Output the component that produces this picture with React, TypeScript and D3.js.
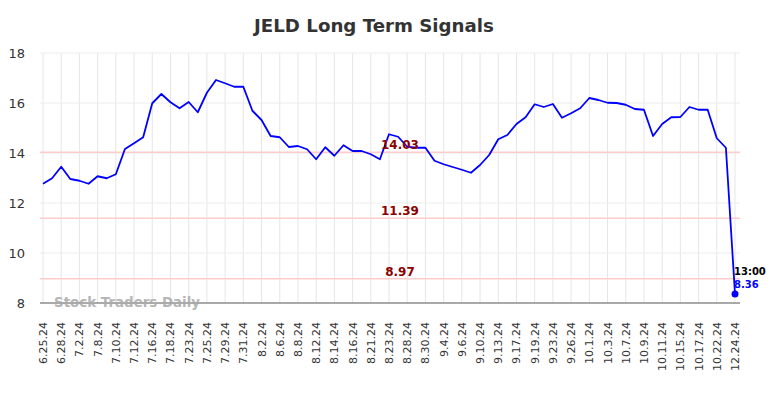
import React from "react";
import * as d3 from "d3";

const tickLabels = ["6.25.24","6.28.24","7.2.24","7.8.24","7.10.24","7.12.24","7.16.24","7.18.24","7.23.24","7.25.24","7.29.24","7.31.24","8.2.24","8.6.24","8.8.24","8.12.24","8.14.24","8.16.24","8.21.24","8.23.24","8.28.24","8.30.24","9.4.24","9.6.24","9.10.24","9.13.24","9.17.24","9.19.24","9.23.24","9.26.24","10.1.24","10.3.24","10.7.24","10.9.24","10.11.24","10.15.24","10.17.24","10.22.24","12.24.24"];

const prices = [12.77,12.99,13.45,12.96,12.89,12.77,13.07,12.99,13.15,14.16,14.39,14.63,15.99,16.36,16.03,15.79,16.04,15.63,16.41,16.92,16.79,16.65,16.65,15.69,15.32,14.68,14.63,14.24,14.28,14.15,13.75,14.23,13.89,14.31,14.08,14.08,13.95,13.75,14.75,14.65,14.25,14.21,14.21,13.69,13.55,13.44,13.33,13.21,13.52,13.92,14.55,14.72,15.16,15.43,15.95,15.84,15.96,15.41,15.59,15.79,16.2,16.12,16.01,16.0,15.93,15.76,15.73,14.68,15.16,15.43,15.44,15.84,15.73,15.73,14.59,14.21,8.36];

const signalLevels = [14.03, 11.39, 8.97];
const yTicks = [8, 10, 12, 14, 16, 18];
const lastTime = "13:00";

export default function App() {
  const W = 784, H = 398;
  const left = 40, right = 740, top = 53, bottom = 303;
  const x = d3.scaleLinear().domain([0, prices.length - 1]).range([43, 735]);
  const y = d3.scaleLinear().domain([8, 18]).range([bottom, top]);
  const line = d3.line<number>().x((_, i) => x(i)).y(d => y(d));
  const font = "DejaVu Sans, sans-serif";
  const last = prices.length - 1;
  return (
    <svg width={W} height={H} style={{ position: "absolute", left: 0, top: 0 }} fontFamily={font}>
      <text x={374} y={32} textAnchor="middle" fontSize={18.2} fontWeight="bold" fill="#333">JELD Long Term Signals</text>
      {tickLabels.map((t, k) => (
        <line key={"vg" + k} x1={x(k * 2)} x2={x(k * 2)} y1={top} y2={bottom} stroke="#e6e6e6" strokeWidth={1} />
      ))}
      {yTicks.filter(v => v > 8).map(v => (
        <line key={"hg" + v} x1={left} x2={right} y1={y(v)} y2={y(v)} stroke="#ececec" strokeWidth={1} />
      ))}
      {signalLevels.map(v => (
        <line key={"sl" + v} x1={left} x2={right} y1={y(v)} y2={y(v)} stroke="#ffcccc" strokeWidth={1.5} />
      ))}
      <line x1={left} x2={right} y1={bottom} y2={bottom} stroke="#555" strokeWidth={1} />
      {yTicks.map(v => (
        <text key={"yt" + v} x={25} y={y(v) + 5} textAnchor="end" fontSize={13} fill="#333">{v}</text>
      ))}
      {tickLabels.map((t, k) => (
        <text key={"xt" + k} transform={`translate(${x(k * 2) + 4},322) rotate(-90)`} textAnchor="end" fontSize={11} fill="#333">{t}</text>
      ))}
      <text x={54} y={307} fontSize={13.4} fontWeight="bold" fill="#aaa" opacity={0.85}>Stock Traders Daily</text>
      <path d={line(prices) || ""} fill="none" stroke="#0000ff" strokeWidth={1.8} strokeLinejoin="round" />
      {signalLevels.map(v => (
        <text key={"st" + v} x={400} y={y(v) - 3} textAnchor="middle" fontSize={12} fontWeight="bold" fill="#8b0000">{v.toFixed(2)}</text>
      ))}
      <circle cx={x(last)} cy={y(prices[last])} r={3.5} fill="#0000ff" />
      <text x={734} y={275} fontSize={10} fontWeight="bold" fill="#000">{lastTime}</text>
      <text x={734} y={288} fontSize={10} fontWeight="bold" fill="#0000ff">{prices[last].toFixed(2)}</text>
    </svg>
  );
}
